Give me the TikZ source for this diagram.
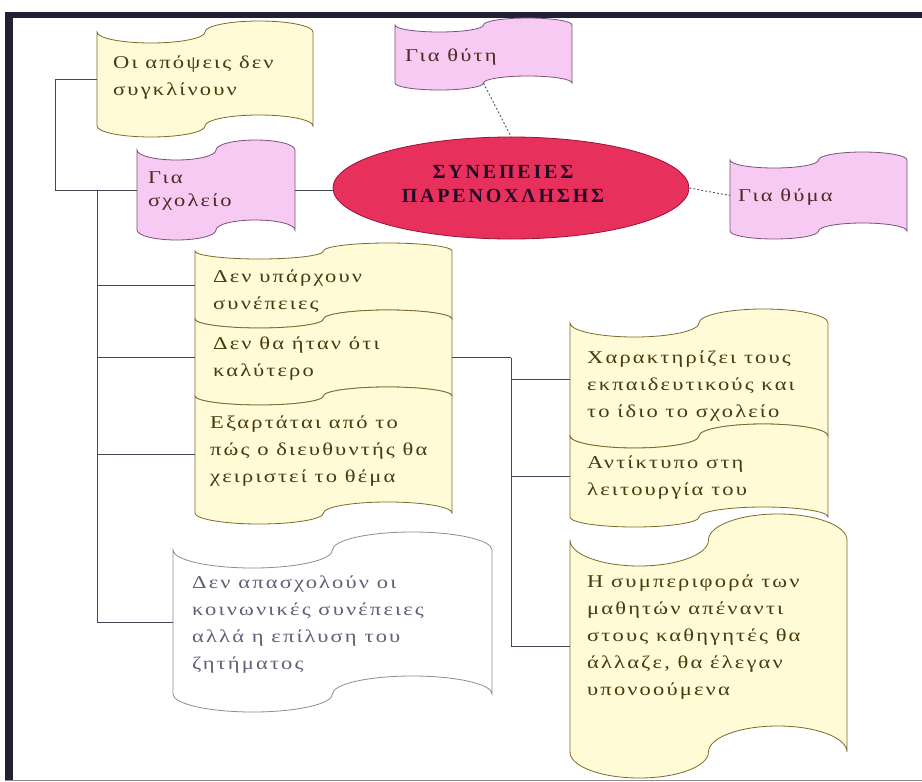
\documentclass[tikz,border=0pt]{standalone}
\usepackage{fontspec}
\setmainfont{Liberation Serif}
\newfontfamily\boxfont[FakeStretch=1.25, LetterSpace=12]{Liberation Serif}
\newfontfamily\titlefont[LetterSpace=14]{Liberation Serif}
\usetikzlibrary{shapes.geometric,backgrounds}

\pgfdeclarelayer{base}
\pgfsetlayers{base,background,main}

\definecolor{frameink}{RGB}{36,32,52}
\definecolor{yellowfill}{RGB}{255,251,214}
\definecolor{yellowline}{RGB}{125,105,45}
\definecolor{yellowtext}{RGB}{72,58,12}
\definecolor{pinkfill}{RGB}{246,202,242}
\definecolor{pinkline}{RGB}{120,82,122}
\definecolor{pinktext}{RGB}{82,40,34}
\definecolor{greyline}{RGB}{140,140,152}
\definecolor{greytext}{RGB}{104,92,118}
\definecolor{corefill}{RGB}{232,48,92}
\definecolor{coreline}{RGB}{150,22,55}
\definecolor{coretext}{RGB}{32,12,40}
\definecolor{wire}{RGB}{72,70,84}

\tikzset{
  yellowtape/.style={fill=yellowfill, draw=yellowline, line width=0.8pt},
  pinktape/.style={fill=pinkfill, draw=pinkline, line width=0.8pt},
  whitetape/.style={fill=white, draw=greyline, line width=0.8pt},
  shapebox/.style={rectangle, inner sep=0pt, outer sep=0pt},
  label/.style={anchor=west, align=left, inner sep=0pt,
    font=\boxfont\fontsize{18}{27}\selectfont},
  yellowlabel/.style={label, text=yellowtext},
  pinklabel/.style={label, text=pinktext},
  greylabel/.style={label, text=greytext},
  wireline/.style={draw=wire, line width=0.7pt},
  dotwire/.style={draw=wire, line width=0.8pt, dash pattern=on 2pt off 2pt},
}

% Punched-tape box on the pixel grid (y downwards):
% look, name, left, top corner, right, bottom corner, top wave depth, bottom wave depth.
% The named node spans corner to corner.
\newcommand\tapebox[8]{%
  \pgfmathsetmacro\tbW{#5-#3}%
  \pgfmathsetmacro\tbH{#6-#4}%
  \pgfmathsetmacro\tbR{\tbW/4}%
  \node[shapebox, minimum width=\tbW pt, minimum height=\tbH pt]
    (#2) at ({(#3+#5)/2},{-(#4+#6)/2}) {};
  \begin{pgfonlayer}{background}
    \path[#1] (#2.north west)
      arc[start angle=180, end angle=360, x radius=\tbR pt, y radius=#7pt]
      arc[start angle=180, end angle=0, x radius=\tbR pt, y radius=#7pt]
      -- (#2.south east)
      arc[start angle=0, end angle=180, x radius=\tbR pt, y radius=#8pt]
      arc[start angle=0, end angle=-180, x radius=\tbR pt, y radius=#8pt]
      -- cycle;
  \end{pgfonlayer}%
}

\begin{document}
\begin{tikzpicture}[x=1pt, y=1pt]
  \useasboundingbox (0,0) rectangle (922,-782);
  \begin{pgfonlayer}{base}
    \fill[white] (0,0) rectangle (922,-782);
    % frame
    \fill[frameink] (5,-12) rectangle (922,-18);
    \fill[frameink] (5,-12) rectangle (13,-780);
    \draw[greyline, line width=1pt] (5,-780) -- (922,-780);
  \end{pgfonlayer}

  % central ellipse
  \node[ellipse, minimum width=356pt, minimum height=102pt, inner sep=0pt,
        fill=corefill, draw=coreline, line width=0.8pt] (core) at (511,-188) {};
  \node[align=center, inner sep=0pt, text=coretext,
        font=\titlefont\bfseries\fontsize{20}{24}\selectfont]
        (coretitle) at (503,-184) {ΣΥΝΕΠΕΙΕΣ\\ΠΑΡΕΝΟΧΛΗΣΗΣ};

  % boxes
  \tapebox{yellowtape}{views}{97}{32}{313}{126}{11}{11}
  \tapebox{pinktape}{perp}{395}{25}{572}{83}{7}{7}
  \tapebox{pinktape}{victim}{730}{160}{907}{231}{8}{8}
  \tapebox{pinktape}{school}{137}{150}{295}{230}{10}{10}
  \tapebox{yellowtape}{none}{195}{251}{452}{319}{8}{9}
  \tapebox{yellowtape}{notbest}{195}{319}{452}{396}{9}{9}
  \tapebox{yellowtape}{depends}{195}{396}{452}{513}{9}{11}
  \tapebox{whitetape}{solution}{173}{550}{492}{694}{18}{18}
  \tapebox{yellowtape}{marks}{570}{323}{828}{436}{14}{12}
  \tapebox{yellowtape}{impact}{570}{436}{828}{517}{12}{10}
  \tapebox{yellowtape}{pupils}{570}{540}{847}{752}{26}{26}

  % texts
  \node[yellowlabel] (views-t) at (113,-78) {Οι απόψεις δεν\\συγκλίνουν};
  \node[pinklabel] (perp-t) at (405,-57) {Για θύτη};
  \node[pinklabel] (victim-t) at (738,-197) {Για θύμα};
  \node[pinklabel, font=\boxfont\fontsize{18}{23}\selectfont]
    (school-t) at (148,-191.5) {Για\\σχολείο};
  \node[yellowlabel] (none-t) at (213,-291.5) {Δεν υπάρχουν\\συνέπειες};
  \node[yellowlabel] (notbest-t) at (213,-358.5) {Δεν θα ήταν ότι\\καλύτερο};
  \node[yellowlabel] (depends-t) at (210,-451.5)
    {Εξαρτάται από το\\πώς ο διευθυντής θα\\χειριστεί το θέμα};
  \node[yellowlabel] (marks-t) at (587,-386)
    {Χαρακτηρίζει τους\\εκπαιδευτικούς και\\το ίδιο το σχολείο};
  \node[yellowlabel] (impact-t) at (587,-477.5) {Αντίκτυπο στη\\λειτουργία του};
  \node[greylabel] (solution-t) at (192,-625)
    {Δεν απασχολούν οι\\κοινωνικές συνέπειες\\αλλά η επίλυση του\\ζητήματος};
  \node[yellowlabel] (pupils-t) at (587,-637)
    {Η συμπεριφορά των\\μαθητών απέναντι\\στους καθηγητές θα\\άλλαζε, θα έλεγαν\\υπονοούμενα};

  % connectors
  \draw[dotwire] (perp.south) -- (core.north);
  \draw[dotwire] (core.east) -- (victim.west);
  \draw[wireline] (school.east) -- (school.east -| core.west);
  \draw[wireline] (views.west) -- ++(-42,0) |- (school.west);

  \coordinate (stem) at ([xshift=-40pt]school.west);
  \draw[wireline] (stem) |- (none.west);
  \draw[wireline] (stem) |- (notbest.west);
  \draw[wireline] (stem) |- (depends.west);
  \draw[wireline] (stem) |- (solution.west);

  \coordinate (fork) at ([xshift=59pt]notbest.east);
  \draw[wireline] (notbest.east) -- (fork);
  \draw[wireline] (fork) |- (marks.west);
  \draw[wireline] (fork) |- (impact.west);
  \draw[wireline] (fork) |- (pupils.west);
\end{tikzpicture}
\end{document}
